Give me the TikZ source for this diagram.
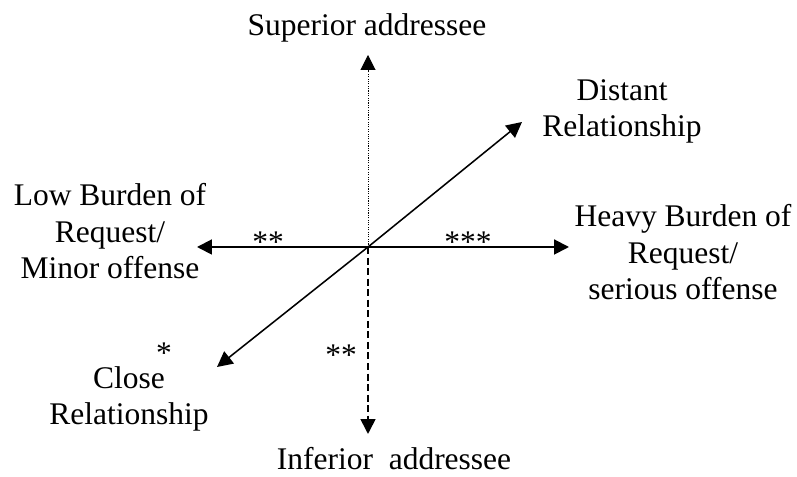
\documentclass[tikz,border=0pt]{standalone}
\usepackage{fontspec}
\setmainfont{Liberation Serif}
\usetikzlibrary{arrows.meta, positioning}

\begin{document}
\begin{tikzpicture}[
        x=0.025cm, y=0.025cm,
        every node/.style={inner sep=0pt, anchor=base, align=center,
            font=\fontsize{22.4}{26.2}\selectfont},
        axisline/.style={line width=1.4pt, -{Triangle[length=10.6pt, width=10.6pt]}},
        diagline/.style={line width=1.1pt, -{Triangle[length=11pt, width=11pt]}},
        stars/.style={font=\fontsize{22.4}{26.2}\selectfont}
    ]
    \useasboundingbox (0,0) rectangle (797,477);

    % Axes
    \coordinate (origin) at (368,230);
    \coordinate (up) at (368,422);
    \coordinate (down) at (368,43);
    \coordinate (west) at (197,230);
    \coordinate (east) at (569,230);
    \coordinate (ne) at (522,355);
    \coordinate (sw) at (217,110);

    \draw[axisline] (origin) -- (west);
    \draw[axisline] (origin) -- (east);
    \draw[diagline] (origin) -- (ne);
    \draw[diagline] (origin) -- (sw);
    \draw[line width=0.7pt, dash pattern=on 0.8pt off 0.9pt,
        -{Triangle[length=10.6pt, width=10.6pt]}] (origin) -- (up);
    \draw[line width=1.2pt, dash pattern=on 5pt off 2.5pt,
        -{Triangle[length=10.6pt, width=10.6pt]}] (origin) -- (down);

    % Labels (base = baseline of the last line)
    \node (superior) at (367,441) {Superior addressee};
    \node (inferior) at (394,7) {Inferior\ \ addressee};
    \node (distant) at (622,340) {Distant\\Relationship};
    \node (close) at (129,52) {Close\\Relationship};
    \node (low) at (110,198) {Low Burden of\\Request/\\Minor offense};
    \node (heavy) at (683,177) {Heavy Burden of\\Request/\\serious offense};

    % Stars
    \node[stars] (lowstars) at (268,224) {**};
    \node[stars] (heavystars) at (468,224) {***};
    \node[stars] (downstars) at (341,111) {**};
    \node[stars] (closestar) at (164,113) {*};

\end{tikzpicture}
\end{document}
